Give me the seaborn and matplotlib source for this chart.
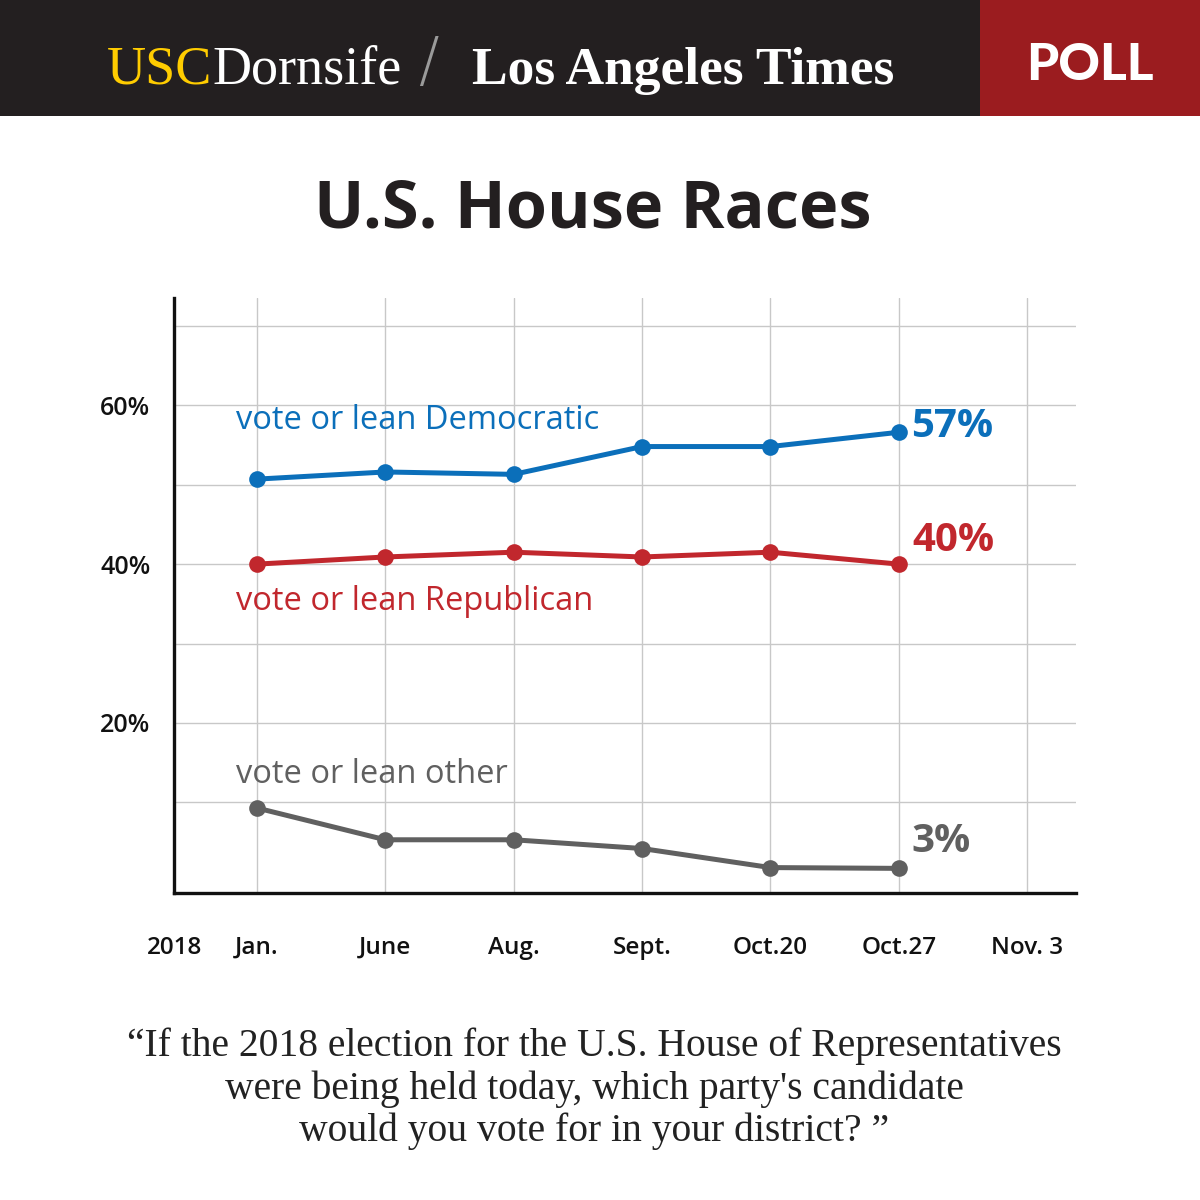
import numpy as np
import pandas as pd
import matplotlib
matplotlib.use('Agg')
import matplotlib.pyplot as plt
import seaborn as sns
from matplotlib.patches import Rectangle
from matplotlib.text import Annotation
from matplotlib.transforms import blended_transform_factory

# Data
dates = ['Jan.', 'June', 'Aug.', 'Sept.', 'Oct.20', 'Oct.27', 'Nov. 3']
democratic = [50.7, 51.6, 51.3, 54.8, 54.8, 56.6]
republican = [40.0, 40.9, 41.5, 40.9, 41.5, 40.0]
other = [9.3, 5.3, 5.3, 4.2, 1.8, 1.7]
series_names = ['vote or lean Democratic', 'vote or lean Republican', 'vote or lean other']
end_labels = ['57%', '40%', '3%']
colors = ['#0b6fba', '#c1272d', '#606060']

pos = np.arange(len(democratic))
df = pd.DataFrame({
    'pos': np.tile(pos, 3),
    'value': democratic + republican + other,
    'series': np.repeat(series_names, len(pos)),
})

sns.set_style('white')
plt.rcParams['font.family'] = ['Open Sans', 'DejaVu Sans']

fig = plt.figure(figsize=(12, 12), dpi=100)
fig.patch.set_facecolor('white')

# Header band
fig.add_artist(Rectangle((0, 1 - 116 / 1200), 1, 116 / 1200, transform=fig.transFigure,
                         facecolor='#231f20', edgecolor='none', zorder=0))
fig.add_artist(Rectangle((980 / 1200, 1 - 116 / 1200), 220 / 1200, 116 / 1200, transform=fig.transFigure,
                         facecolor='#9b1c1f', edgecolor='none', zorder=0))
t1 = fig.text(107 / 1200, 1 - 84 / 1200, 'USC', color='#ffcc00', fontsize=39,
              family='Liberation Serif', va='baseline', ha='left')
fig.add_artist(Annotation('Dornsife', xy=(1, 0), xycoords=t1, va='bottom', ha='left',
                          color='white', fontsize=39, family='Liberation Serif',
                          annotation_clip=False))
fig.text(428 / 1200, 1 - 63 / 1200, '/', color='#9a9a9a', fontsize=44,
         family='DejaVu Sans', fontweight='light', ha='center', va='center')
fig.text(472 / 1200, 1 - 84 / 1200, 'Los Angeles Times', color='white', fontsize=38.5,
         family='Liberation Serif', fontweight='bold', va='baseline', ha='left')
fig.text(1090 / 1200, 1 - 65 / 1200, 'POLL', color='white', fontsize=37,
         family='Lato', fontweight='black', ha='center', va='center')

# Title
fig.text(593 / 1200, 1 - 210 / 1200, 'U.S. House Races', fontsize=48, fontweight='bold',
         color='#231f20', ha='center', va='center')

# Chart
ax = fig.add_axes([174 / 1200, 1 - 893 / 1200, 902 / 1200, 595 / 1200])
sns.lineplot(data=df, x='pos', y='value', hue='series', palette=colors, marker='o',
             markersize=12, markeredgewidth=0, linewidth=3.6, legend=False, sort=False, ax=ax)

ax.set_xlim(-0.646, 6.38)
ax.set_ylim(-1.4, 73.5)
ax.set_xticks(range(len(dates)))
ax.set_xticklabels(dates, fontsize=17.5, fontweight='semibold', color='#111111')
ax.set_yticks(range(10, 80, 10))
ax.set_yticklabels(['', '20%', '', '40%', '', '60%', ''], fontsize=18, fontweight='semibold',
                   color='#111111')
ax.tick_params(axis='x', length=0, pad=31)
ax.tick_params(axis='y', length=0, pad=17)
ax.set_xlabel('')
ax.set_ylabel('')
ax.grid(True, color='#c8c8c8', linewidth=1.0)
ax.set_axisbelow(True)
for side in ['top', 'right']:
    ax.spines[side].set_visible(False)
for side in ['left', 'bottom']:
    ax.spines[side].set_color('#111111')
    ax.spines[side].set_linewidth(2.4)

trans = blended_transform_factory(ax.transData, ax.transAxes)
ax.annotate('2018', xy=(-0.646, 0), xycoords=trans, xytext=(0, -31), textcoords='offset points',
            ha='center', va='top', fontsize=17.5, fontweight='semibold', color='#111111',
            annotation_clip=False)

# Series labels next to first point
name_offsets = [(-15, 42), (-15, -27), (-15, 24)]
for vals, name, col, off in zip([democratic, republican, other], series_names, colors, name_offsets):
    ax.annotate(name, xy=(pos[0], vals[0]), xytext=off, textcoords='offset points',
                ha='left', va='center', fontsize=23.5, color=col)

# End value labels
end_offsets = [(9, 4), (10, 17), (9, 19)]
for vals, lab, col, off in zip([democratic, republican, other], end_labels, colors, end_offsets):
    ax.annotate(lab, xy=(pos[-1], vals[-1]), xytext=off, textcoords='offset points',
                ha='left', va='center', fontsize=29, fontweight='bold', color=col)

# Question text
fig.text(594 / 1200, 1 - 1089 / 1200,
         "\u201cIf the 2018 election for the U.S. House of Representatives\n"
         "were being held today, which party's candidate\n"
         "would you vote for in your district? \u201d",
         fontsize=28.5, family='Liberation Serif', color='#222222', ha='center', va='center',
         linespacing=1.18)

fig.savefig('out.png', dpi=100, facecolor='white')
